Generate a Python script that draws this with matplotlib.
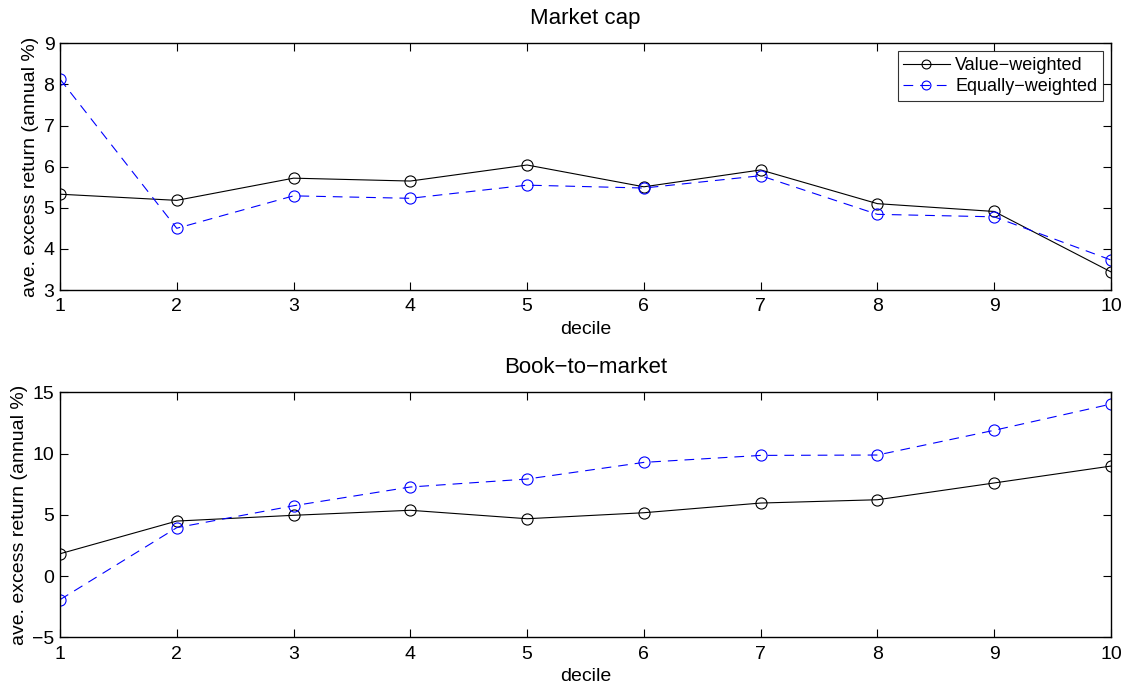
import matplotlib
matplotlib.use('Agg')
import matplotlib.pyplot as plt

plt.rcParams['font.family'] = ['Liberation Sans', 'DejaVu Sans']
plt.rcParams['lines.scale_dashes'] = False

deciles = [1, 2, 3, 4, 5, 6, 7, 8, 9, 10]

# Market cap sorted portfolios
mc_vw = [5.33, 5.18, 5.72, 5.65, 6.04, 5.51, 5.92, 5.10, 4.91, 3.44]
mc_ew = [8.13, 4.50, 5.29, 5.23, 5.55, 5.48, 5.78, 4.84, 4.78, 3.73]

# Book-to-market sorted portfolios
bm_vw = [1.82, 4.49, 4.96, 5.37, 4.68, 5.17, 5.96, 6.23, 7.60, 8.98]
bm_ew = [-1.93, 3.95, 5.74, 7.27, 7.92, 9.28, 9.85, 9.88, 11.90, 14.04]

fs = 14
fig = plt.figure(figsize=(11.23, 6.83), dpi=100)
ax1 = fig.add_axes([0.0534, 0.5754, 0.9359, 0.3612])
ax2 = fig.add_axes([0.0534, 0.0669, 0.9359, 0.3587])

def style(ax, title, ylim, yticks):
    ax.set_xlim(1, 10)
    ax.set_ylim(*ylim)
    ax.set_xticks(deciles)
    ax.set_yticks(yticks)
    ax.tick_params(direction='in', top=True, right=True, length=6, width=0.8,
                   labelsize=fs, pad=4)
    ax.tick_params(axis='x', pad=6)
    for s in ax.spines.values():
        s.set_linewidth(1.0)
    ax.set_title(title, fontsize=16, pad=14)
    ax.set_xlabel('decile', fontsize=fs, labelpad=4)
    ax.set_ylabel('ave. excess return (annual %)', fontsize=fs, labelpad=3)

ax1.plot(deciles, mc_vw, '-o', color='black', lw=0.8, mfc='none', ms=8, mew=0.8,
         label='Value\u2212weighted')
ax1.plot(deciles, mc_ew, 'o', ls=(0, (7, 5)), color='#0000ff', lw=0.8, mfc='none',
         ms=8, mew=0.8, label='Equally\u2212weighted')
style(ax1, 'Market cap', (3, 9), range(3, 10))
leg = ax1.legend(loc='upper right', fontsize=13, frameon=True, fancybox=False,
                 edgecolor='black', handlelength=2.6, borderpad=0.3,
                 labelspacing=0.25, handletextpad=0.3, borderaxespad=0.45,
                 markerscale=0.8)
leg.get_frame().set_linewidth(0.8)

ax2.plot(deciles, bm_vw, '-o', color='black', lw=0.8, mfc='none', ms=8, mew=0.8)
ax2.plot(deciles, bm_ew, 'o', ls=(0, (7, 5)), color='#0000ff', lw=0.8, mfc='none',
         ms=8, mew=0.8)
style(ax2, 'Book\u2212to\u2212market', (-5, 15), range(-5, 16, 5))

fig.savefig('out.png', dpi=100)
